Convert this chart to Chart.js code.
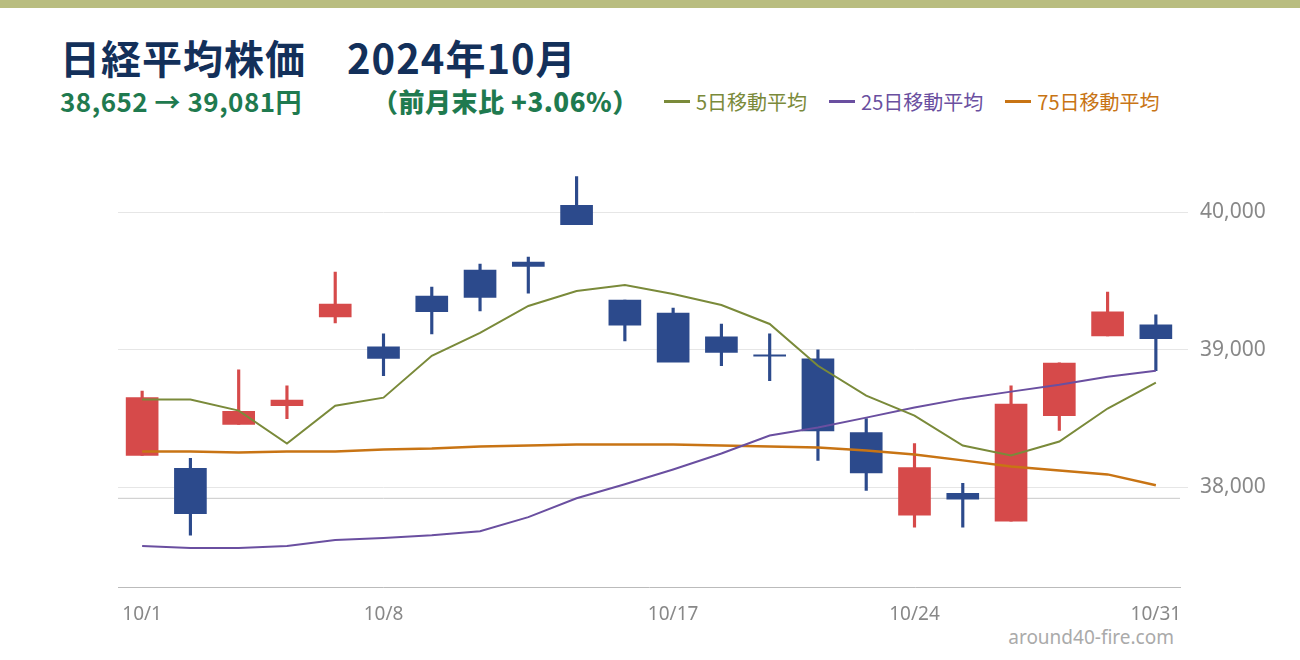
<!DOCTYPE html>
<html><head><meta charset="utf-8">
<script src="https://cdn.jsdelivr.net/npm/chart.js@4/dist/chart.umd.min.js"></script>
<style>
body{margin:0;width:1300px;height:660px;background:#fff;font-family:"Noto Sans CJK JP","Noto Sans",sans-serif;overflow:hidden;position:relative}
#bar{position:absolute;left:0;top:0;width:1300px;height:8px;background:#b9bd80}
#title{position:absolute;left:60px;top:28px;font-size:40px;font-weight:bold;color:#13305a;letter-spacing:1px}
#sub{position:absolute;left:60px;top:82px;font-size:26px;font-weight:bold;color:#1f7a4f;white-space:pre;letter-spacing:0.5px}
#sub b{margin-left:70px}
#legend{position:absolute;left:664px;top:87px;font-size:20px;display:flex;gap:22px}
#legend span{display:flex;align-items:center}
#legend i{display:inline-block;width:26px;height:3px;margin-right:6px}
#wm{position:absolute;right:126px;top:624px;font-size:19px;color:#aaa;font-family:"Noto Sans",sans-serif}
#c{position:absolute;left:0;top:130px}
</style></head><body>
<div id="bar"></div>
<div id="title">日経平均株価　2024年10月</div>
<div id="sub">38,652 → 39,081円<b>（前月末比 +3.06%）</b></div>
<div id="legend"><span style="color:#7a8a3a"><i style="background:#7a8a3a"></i>5日移動平均</span><span style="color:#6a4fa0"><i style="background:#6a4fa0"></i>25日移動平均</span><span style="color:#c87414"><i style="background:#c87414"></i>75日移動平均</span></div>
<div id="wm">around40-fire.com</div>
<canvas id="c" width="1300" height="520"></canvas>
<script>
const dates=["10/1","10/2","10/3","10/4","10/7","10/8","10/9","10/10","10/11","10/15","10/16","10/17","10/18","10/21","10/22","10/23","10/24","10/25","10/28","10/29","10/30","10/31"];
const shownLabels=["10/1","10/8","10/17","10/24","10/31"];
const openV=[38232,38138,38457,38594,39239,39022,39391,39580,39638,40051,39362,39268,39094,38964,38935,38399,37797,37957,37754,38522,39101,39181];
const highV=[38700,38210,38855,38739,39565,39116,39457,39623,39674,40261,39362,39304,39188,39116,39000,38500,38319,38029,38739,38906,39420,39254];
const lowV=[38232,37652,38457,38500,39196,38812,39116,39283,39413,39913,39065,38913,38884,38775,38196,37978,37710,37710,37754,38413,39101,38848];
const closeV=[38652,37809,38552,38635,39332,38937,39278,39381,39606,39911,39180,38911,38981,38954,38411,38104,38143,37913,38605,38903,39277,39081];
const ma5=[38638,38638,38558,38319,38594,38652,38957,39123,39319,39428,39471,39406,39326,39188,38884,38667,38522,38304,38232,38333,38573,38761];
const ma25=[37573,37558,37558,37573,37616,37631,37652,37681,37783,37920,38022,38130,38246,38377,38435,38507,38580,38645,38696,38746,38804,38848];
const ma75=[38261,38261,38254,38261,38261,38275,38282,38297,38304,38312,38312,38312,38304,38297,38290,38268,38239,38196,38152,38123,38094,38015];
const prevClose=37920;
const yTicks=[38000,39000,40000];
const up="#d64a4a",down="#2c4a8c";
const col=openV.map((o,i)=>closeV[i]>=o?up:down);
const refLine={id:'ref',beforeDatasetsDraw(ch){const y=ch.scales.y.getPixelForValue(prevClose),a=ch.chartArea,c=ch.ctx;c.save();c.strokeStyle='#c8c8c8';c.lineWidth=1;c.beginPath();c.moveTo(a.left,y);c.lineTo(a.right,y);c.stroke();c.restore();}};
new Chart(document.getElementById('c'),{
data:{labels:dates,datasets:[
{type:'line',data:ma5,borderColor:'#7a8a3a',borderWidth:2,pointRadius:0,tension:0,order:0},
{type:'line',data:ma25,borderColor:'#6a4fa0',borderWidth:2,pointRadius:0,tension:0,order:0},
{type:'line',data:ma75,borderColor:'#c87414',borderWidth:2.5,pointRadius:0,tension:0,order:0},
{type:'bar',data:openV.map((o,i)=>[o,closeV[i]]),backgroundColor:col,barThickness:32,grouped:false,order:1},
{type:'bar',data:lowV.map((l,i)=>[l,highV[i]]),backgroundColor:col,barThickness:2.5,grouped:false,order:2}
]},
options:{responsive:false,animation:false,layout:{padding:{left:118,top:10}},
plugins:{legend:{display:false},tooltip:{enabled:false}},
scales:{
x:{offset:true,grid:{display:false},border:{color:'#bbb'},afterFit(s){s.height=63;},
 ticks:{autoSkip:false,maxRotation:0,color:'#888',font:{size:19,family:'Noto Sans'},padding:8,callback(v){const l=dates[v];return shownLabels.includes(l)?l:'';}}},
y:{position:'right',min:37275,max:40420,afterFit(s){s.width=120;},border:{display:false},
 grid:{color:'#e6e6e6'},afterBuildTicks(s){s.ticks=yTicks.map(v=>({value:v}));},
 ticks:{color:'#888',font:{size:21,family:'Noto Sans'},padding:12,callback:v=>v.toLocaleString('en-US')}}
}},plugins:[refLine]});
</script></body></html>
